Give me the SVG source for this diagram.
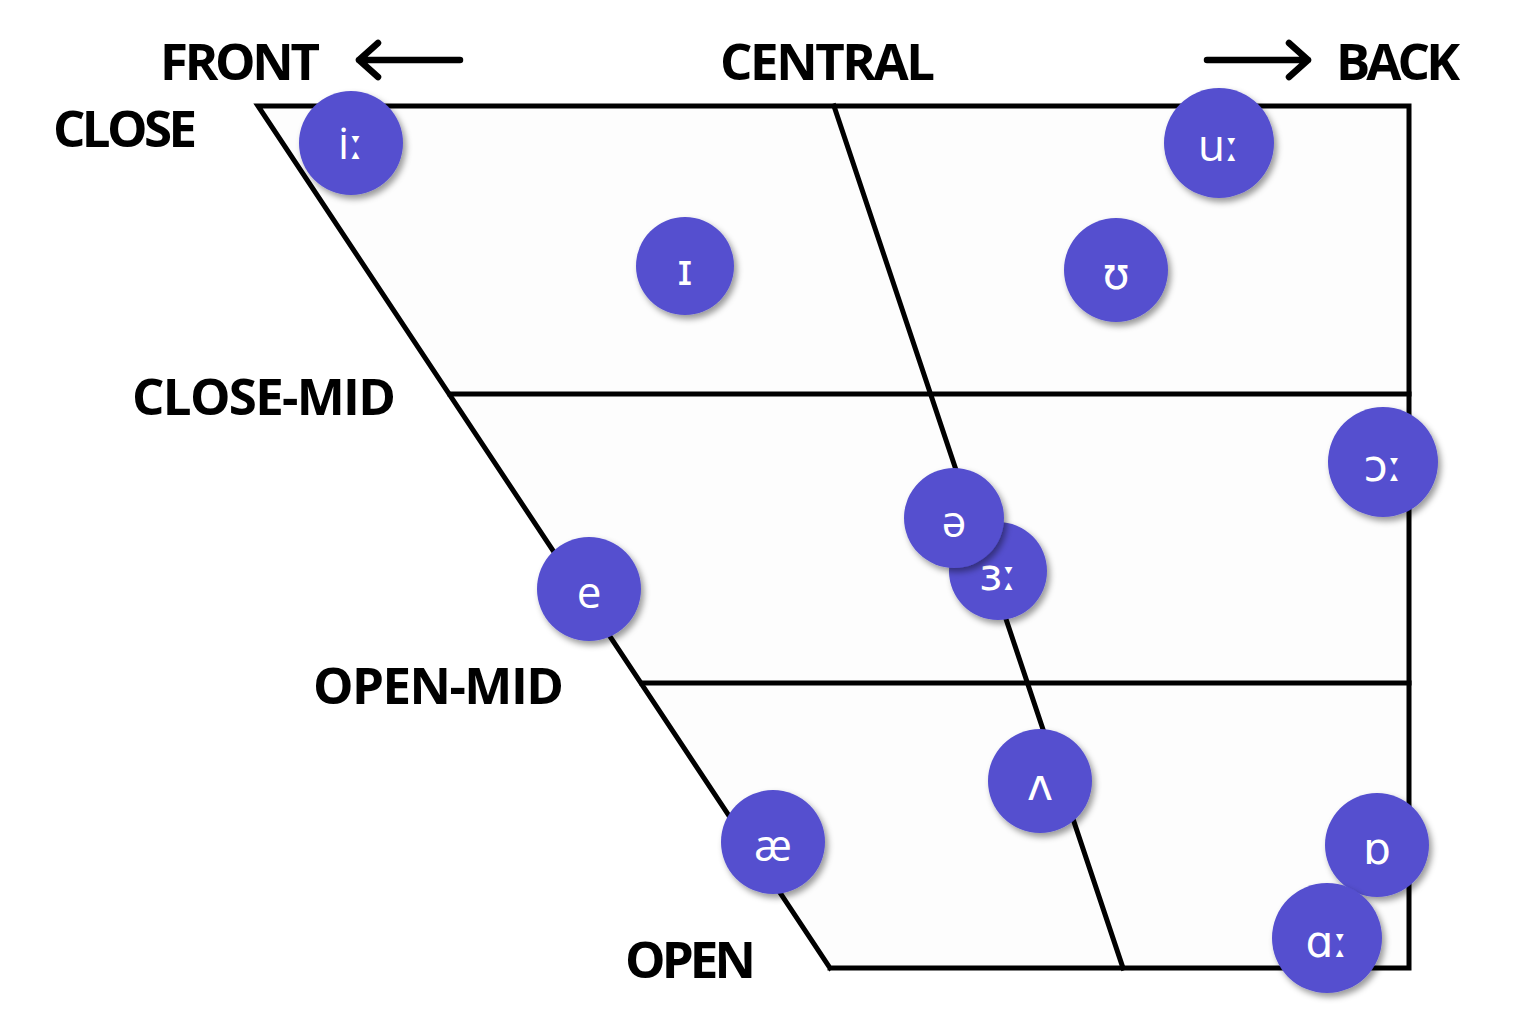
<svg xmlns="http://www.w3.org/2000/svg" width="1524" height="1029" viewBox="0 0 1524 1029">
<defs>
<style>
.lbl{font-family:"Open Sans","Noto Sans",sans-serif;font-weight:bold;font-size:51px;fill:#000}
.ln{stroke:#000;stroke-width:5;fill:none;stroke-linecap:square}
.arr{stroke:#000;stroke-width:6.5;fill:none;stroke-linecap:round;stroke-linejoin:round}
.v circle{fill:#544fcf;filter:url(#sh)}
.v text{font-family:"Open Sans","DejaVu Sans",sans-serif;font-size:44px;fill:#fff;text-anchor:middle}
</style>
<filter id="sh" x="-30%" y="-30%" width="170%" height="170%">
<feDropShadow dx="3" dy="4" stdDeviation="3" flood-color="#000" flood-opacity="0.4"/>
</filter>
</defs>
<rect width="1524" height="1029" fill="#fff"/>
<g id="labels">
<text class="lbl" x="160" y="80" textLength="160">FRONT</text>
<text class="lbl" x="720" y="80" textLength="215">CENTRAL</text>
<text class="lbl" x="1336" y="80" textLength="124">BACK</text>
<text class="lbl" x="53" y="147" textLength="144">CLOSE</text>
<text class="lbl" x="132" y="415" textLength="264">CLOSE-MID</text>
<text class="lbl" x="313" y="704" textLength="251">OPEN-MID</text>
<text class="lbl" x="625" y="978" textLength="131">OPEN</text>
</g>
<g id="connectors">
<polygon points="258,106 1409,106 1409,968 830,968" fill="#fdfdfd" stroke="none"/>
<polyline class="ln" points="830,968 1409,968 1409,106 258,106 830,968"/>
<line class="ln" x1="834" y1="106" x2="1123" y2="968"/>
<line class="ln" x1="450" y1="394" x2="1409" y2="394"/>
<line class="ln" x1="642" y1="683" x2="1409" y2="683"/>
<path class="arr" d="M460,60 H359 M378,43 L359,60 L378,77"/>
<path class="arr" d="M1207,60 H1308 M1289,43 L1308,60 L1289,77"/>
</g>
<g class="v">
<g id="v-i"><circle cx="351" cy="143" r="52"/><text x="351" y="159">iː</text></g>
<g id="v-I"><circle cx="685" cy="266" r="49"/><text x="685" y="285">ɪ</text></g>
<g id="v-u"><circle cx="1219" cy="143" r="55"/><text x="1219" y="161">uː</text></g>
<g id="v-U"><circle cx="1116" cy="270" r="52"/><text x="1116" y="289">ʊ</text></g>
<g id="v-O"><circle cx="1383" cy="462" r="55"/><text x="1383" y="481">ɔː</text></g>
<g id="v-3"><circle cx="998" cy="571" r="49"/><text x="998" y="590">ɜː</text></g>
<g id="v-schwa"><circle cx="954" cy="518" r="50"/><text x="954" y="537">ə</text></g>
<g id="v-e"><circle cx="589" cy="589" r="52"/><text x="589" y="608">e</text></g>
<g id="v-V"><circle cx="1040" cy="781" r="52"/><text x="1040" y="800">ʌ</text></g>
<g id="v-ae"><circle cx="773" cy="842" r="52"/><text x="773" y="861">æ</text></g>
<g id="v-Q"><circle cx="1377" cy="845" r="52"/><text x="1377" y="864">ɒ</text></g>
<g id="v-A"><circle cx="1327" cy="938" r="55"/><text x="1327" y="957">ɑː</text></g>
</g>
</svg>
